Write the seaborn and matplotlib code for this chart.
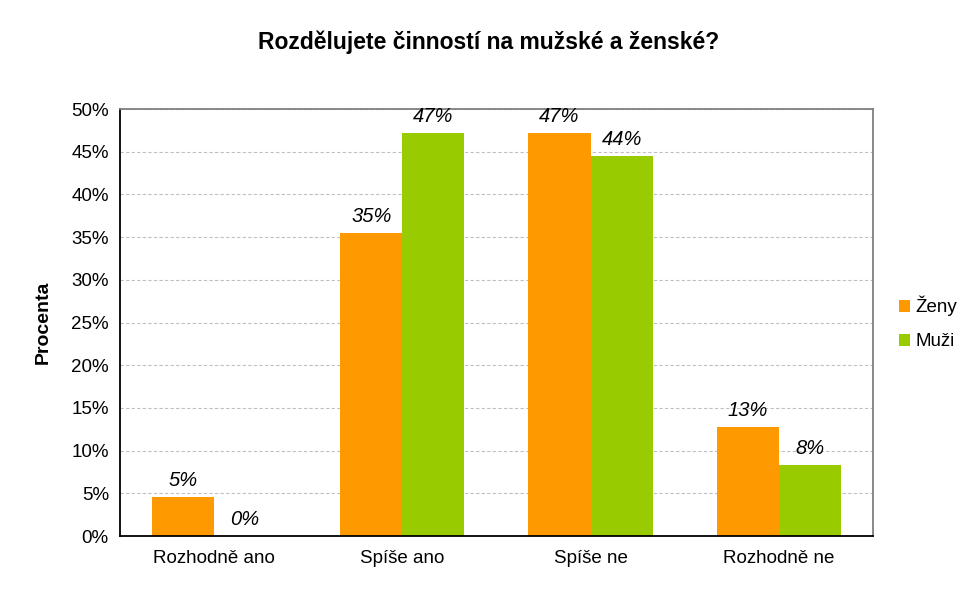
import seaborn as sns
import matplotlib.pyplot as plt
import pandas as pd
from matplotlib.ticker import MultipleLocator, FuncFormatter
from matplotlib.patches import Patch

# values (percent)
categories = ["Rozhodně ano", "Spíše ano", "Spíše ne", "Rozhodně ne"]
zeny = [4.6, 35.5, 47.2, 12.8]
muzi = [0.0, 47.2, 44.5, 8.3]
labels_zeny = ["5%", "35%", "47%", "13%"]
labels_muzi = ["0%", "47%", "44%", "8%"]
groups = ["Ženy", "Muži"]
colors = ["#FF9900", "#99CC00"]

df = pd.DataFrame({
    "kategorie": categories * 2,
    "skupina": [groups[0]] * 4 + [groups[1]] * 4,
    "procenta": zeny + muzi,
})

sns.set_style("white")
plt.rcParams["font.family"] = ["Liberation Sans", "DejaVu Sans"]
plt.rcParams["text.color"] = "black"
plt.rcParams["axes.labelcolor"] = "black"
plt.rcParams["xtick.color"] = "black"
plt.rcParams["ytick.color"] = "black"

fig = plt.figure(figsize=(9.77, 6.06), dpi=100)
ax = fig.add_axes([0.1228, 0.1155, 0.7707, 0.7046])

sns.barplot(data=df, x="kategorie", y="procenta", hue="skupina",
            palette=colors, width=0.66, gap=0, saturation=1, linewidth=0,
            order=categories, hue_order=groups, ax=ax, legend=False)

ax.set_xlim(-0.5, 3.5)
ax.set_ylim(0, 50)
ax.yaxis.set_major_locator(MultipleLocator(5))
ax.yaxis.set_major_formatter(FuncFormatter(lambda v, p: f"{v:.0f}%"))
ax.grid(axis="y", color="#c0c0c0", linestyle=(0, (3, 2)), linewidth=0.8)
ax.set_axisbelow(True)

# category boundaries as tick marks
ax.set_xticks([-0.5, 0.5, 1.5, 2.5, 3.5], minor=False)
ax.set_xticklabels([])
ax.set_xticks(range(4), minor=True)
ax.set_xticklabels(categories, minor=True, fontsize=13.5)
ax.tick_params(axis="x", which="major", direction="out", length=6, width=1, color="black")
ax.tick_params(axis="x", which="minor", length=0, pad=10)
ax.tick_params(axis="y", direction="out", length=5, width=1, color="black", labelsize=13.5, pad=3)

for side in ["left", "bottom"]:
    ax.spines[side].set_color("black")
    ax.spines[side].set_linewidth(1.3)
for side in ["top", "right"]:
    ax.spines[side].set_visible(True)
    ax.spines[side].set_color("#808080")
    ax.spines[side].set_linewidth(1.3)

for cont, labs in zip(ax.containers, [labels_zeny, labels_muzi]):
    ax.bar_label(cont, labels=labs, padding=5, fontsize=14.5, style="italic")

ax.set_xlabel("")
ax.set_ylabel("Procenta", fontsize=14, fontweight="bold", labelpad=14)

handles = [Patch(facecolor=c, edgecolor="none") for c in colors]
fig.legend(handles, groups, loc="center left", bbox_to_anchor=(0.912, 0.467),
           frameon=False, fontsize=13.5, handlelength=0.6, handleheight=0.6,
           handletextpad=0.3, labelspacing=0.9, borderaxespad=0)

fig.suptitle("Rozdělujete činností na mužské a ženské?", fontsize=16.5,
             fontweight="bold", y=0.95)

plt.savefig("out.png", dpi=100)
